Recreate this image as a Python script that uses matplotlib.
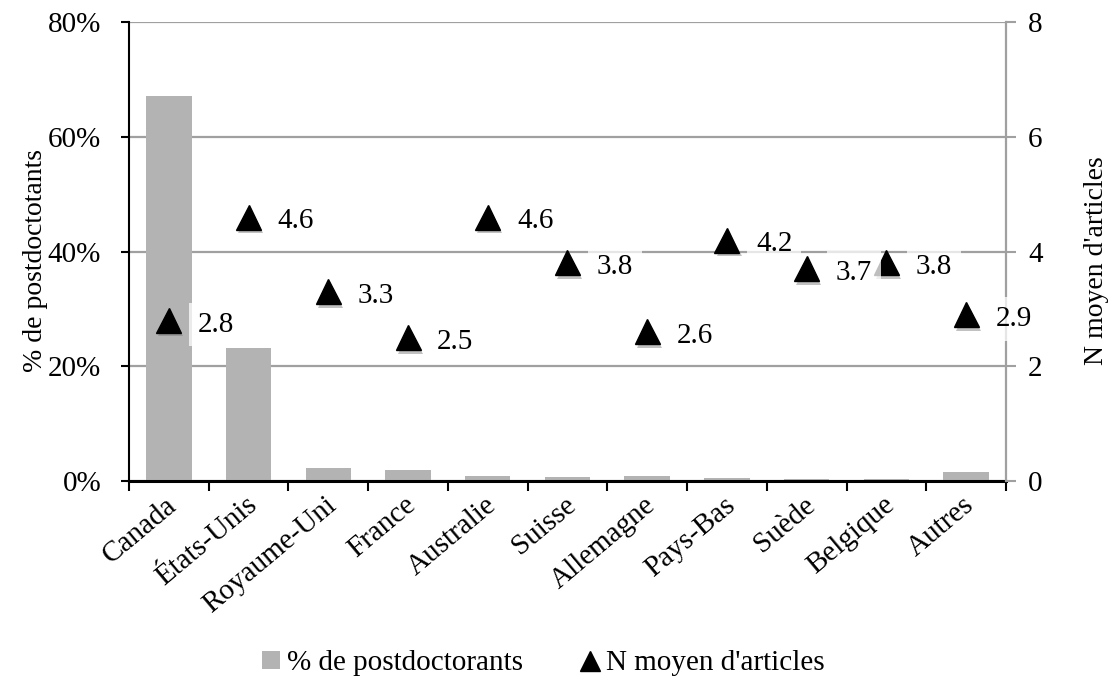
import matplotlib
matplotlib.use("Agg")
import matplotlib.pyplot as plt
import matplotlib.patheffects as pe
from matplotlib.lines import Line2D
from matplotlib.patches import Patch
import numpy as np

# Pays d'accueil des postdoctorants
pays = ["Canada", "États-Unis", "Royaume-Uni", "France", "Australie", "Suisse",
        "Allemagne", "Pays-Bas", "Suède", "Belgique", "Autres"]
pct_postdocs = [67.1, 23.2, 2.3, 2.0, 0.9, 0.65, 0.9, 0.5, 0.35, 0.35, 1.6]
n_articles = [2.8, 4.6, 3.3, 2.5, 4.6, 3.8, 2.6, 4.2, 3.7, 3.8, 2.9]

plt.rcParams["font.family"] = ["Liberation Serif", "DejaVu Serif"]
plt.rcParams["font.size"] = 21

fig = plt.figure(figsize=(11.09, 6.77), dpi=100)
ax = fig.add_axes([0.1163, 0.2895, 0.9071 - 0.1163, 0.9675 - 0.2895])
ax2 = ax.twinx()

x = np.arange(len(pays))
ax.bar(x, pct_postdocs, width=0.57, color="#b3b3b3", zorder=2)

ax.set_xlim(-0.5, len(pays) - 0.5)
ax.set_ylim(0, 80)
ax.set_yticks([0, 20, 40, 60, 80])
ax.set_yticklabels([f"{v}%" for v in [0, 20, 40, 60, 80]])
ax.yaxis.grid(True, color="#a0a0a0", linewidth=1.6)
ax.set_axisbelow(True)

# category names at the centres, tick marks at the boundaries
ax.set_xticks(x + 0.06)
ax.set_xticklabels(pays, rotation=40, ha="right", va="center", rotation_mode="anchor")
ax.tick_params(axis="x", which="major", length=0, pad=15)
ax.set_xticks(np.arange(len(pays) + 1) - 0.5, minor=True)
ax.tick_params(axis="x", which="minor", length=7, width=1.5, direction="out", color="black")
ax.tick_params(axis="y", length=6, width=1.5, direction="out", pad=14)

for side in ["top", "right"]:
    ax.spines[side].set_visible(False)
ax.spines["left"].set_linewidth(1.5)
ax.spines["bottom"].set_linewidth(2.2)
ax.spines["bottom"].set_zorder(3)
ax.set_ylabel("% de postdoctotants", fontsize=20, labelpad=0)
ax.yaxis.label.set_y(0.48)

# secondary axis: mean number of articles
ax2.set_ylim(0, 8)
ax2.set_yticks([0, 2, 4, 6, 8])
ax2.tick_params(axis="y", length=7, width=1.5, color="#a0a0a0", direction="out", pad=9)
for side in ["top", "left", "bottom"]:
    ax2.spines[side].set_visible(False)
ax2.spines["right"].set_color("#a0a0a0")
ax2.spines["right"].set_linewidth(1.6)
ax2.set_ylabel("N moyen d'articles", fontsize=20, rotation=90, labelpad=30)
ax2.yaxis.label.set_y(0.48)

shadow = [pe.SimplePatchShadow(offset=(1.5, -2.5), shadow_rgbFace="#777777", alpha=0.45), pe.Normal()]
ax2.plot(x, n_articles, linestyle="none", marker="^", markersize=18, color="black",
         path_effects=shadow, zorder=4)

for xi, v in zip(x, n_articles):
    ax2.annotate(f"{v:.1f}", xy=(xi, v), xytext=(21, -3), textcoords="offset points",
                 ha="left", va="center", fontsize=21, zorder=5,
                 bbox=dict(boxstyle="square,pad=0.3", facecolor="white", edgecolor="none", alpha=0.75))

handles = [Patch(facecolor="#b3b3b3", edgecolor="none"),
           Line2D([], [], linestyle="none", marker="^", markersize=14, color="black")]
fig.legend(handles, ["% de postdoctorants", "N moyen d'articles"], loc="lower center",
           bbox_to_anchor=(0.49, -0.038), ncol=2, frameon=False, handlelength=0.6,
           handleheight=0.6, handletextpad=0.25, columnspacing=2.0, fontsize=21)

fig.savefig("out.png", dpi=100)
